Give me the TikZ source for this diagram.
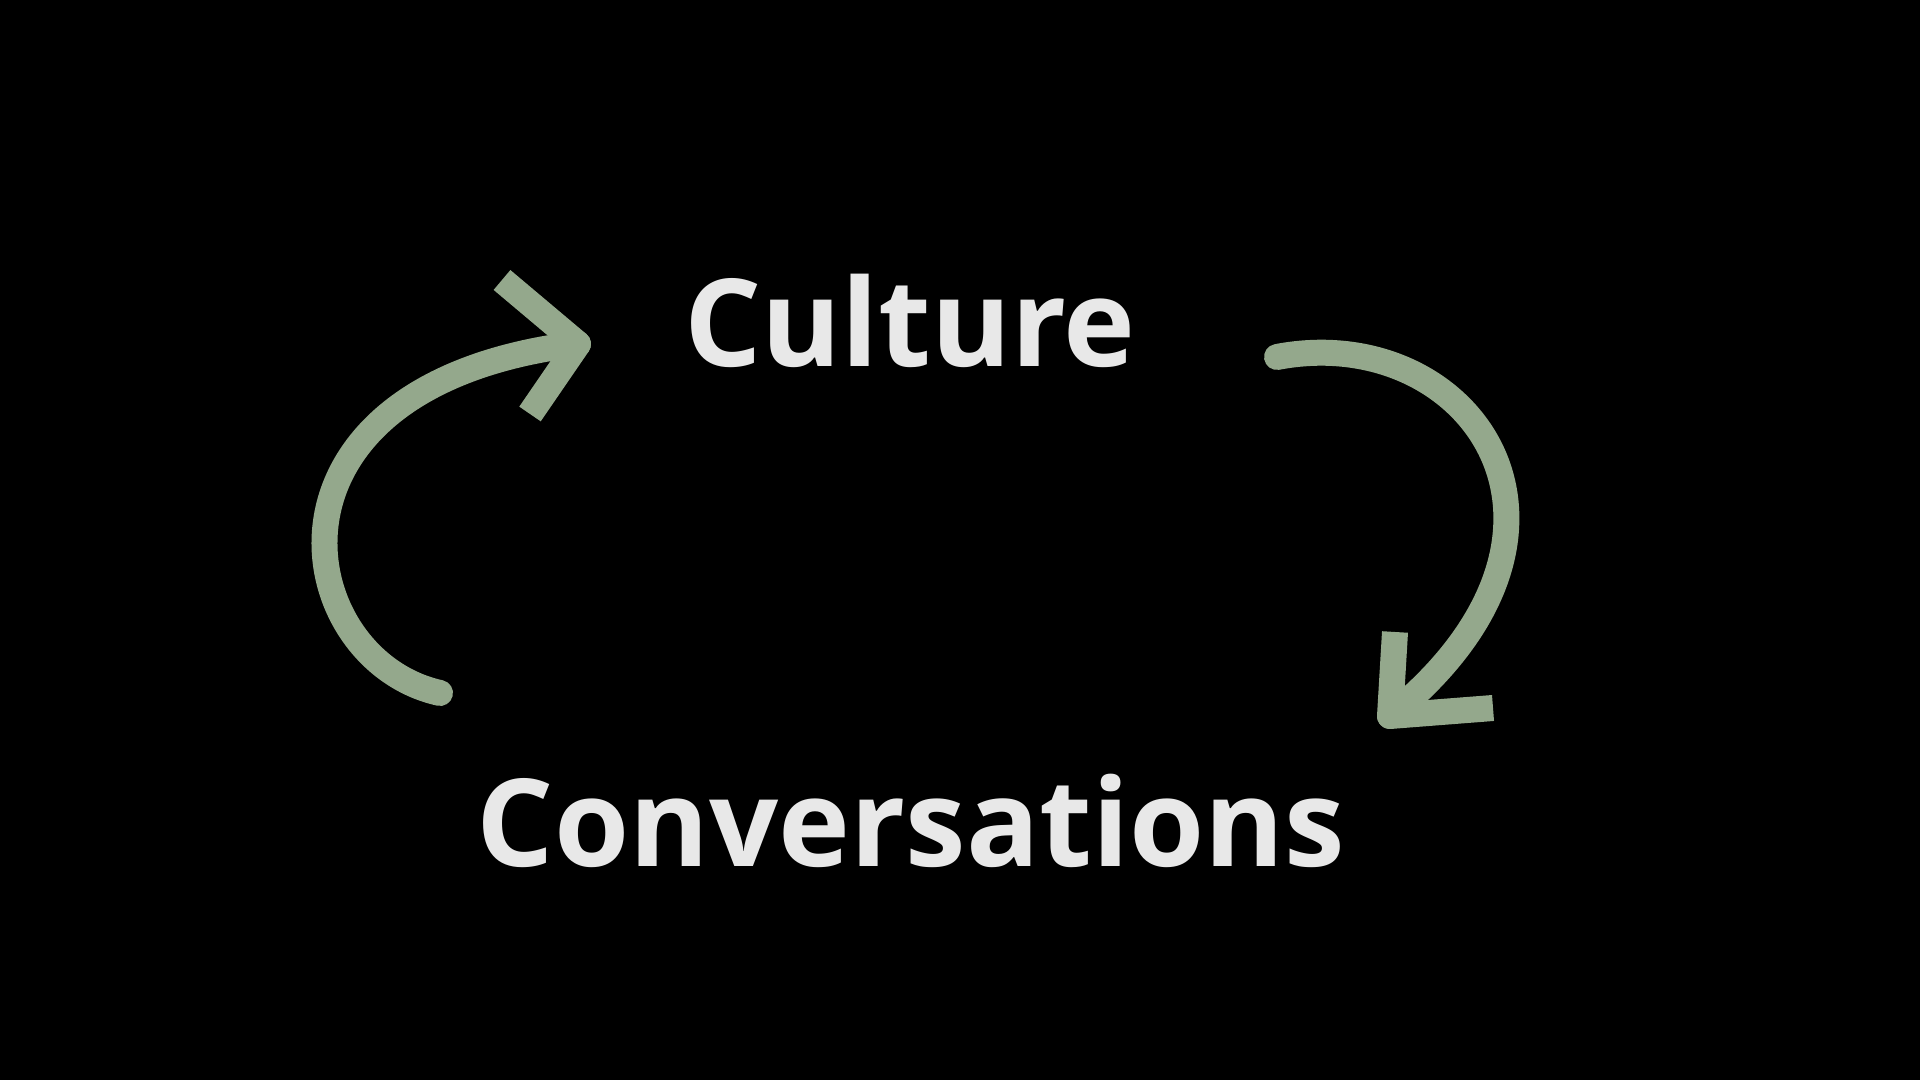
\documentclass[tikz,border=0pt]{standalone}
\usepackage{fontspec}
\setsansfont{Open Sans}
\usetikzlibrary{calc}
\definecolor{sage}{HTML}{94A88C}
\definecolor{chalk}{HTML}{E8E8E8}

\begin{document}
\begin{tikzpicture}[
  word/.style={font=\sffamily\bfseries\fontsize{34.6}{40}\selectfont, text=chalk,
               anchor=base, inner sep=0pt},
  loopline/.style={draw=sage, line width=0.26cm, line cap=round},
  barbs/.style={draw=sage, line width=0.26cm, line cap=butt, line join=round}
]
\fill[black] (0,0) rectangle (19.2,10.8);

\node[word] (culture) at (9.10,7.13) {Culture};
\node[word] (conversations) at (9.11,2.13) {Conversations};

% left loop: conversations -> culture
\coordinate (leftTail) at (4.40,3.87);
\coordinate (leftTip) at (5.78,7.36);
\draw[loopline] (leftTail) .. controls (2.90,4.20) and (2.40,6.95) .. (leftTip);
\draw[barbs] ($(leftTip)+(-0.76,0.64)$) -- (leftTip) -- ++(-0.48,-0.70);

% right loop: culture -> conversations
\coordinate (rightTail) at (12.77,7.23);
\coordinate (rightTip) at (13.90,3.64);
\draw[loopline] (rightTail) .. controls (14.70,7.60) and (16.20,5.50) .. (rightTip);
\draw[barbs] ($(rightTip)+(0.05,0.84)$) -- (rightTip) -- ++(1.03,0.08);

\end{tikzpicture}
\end{document}
